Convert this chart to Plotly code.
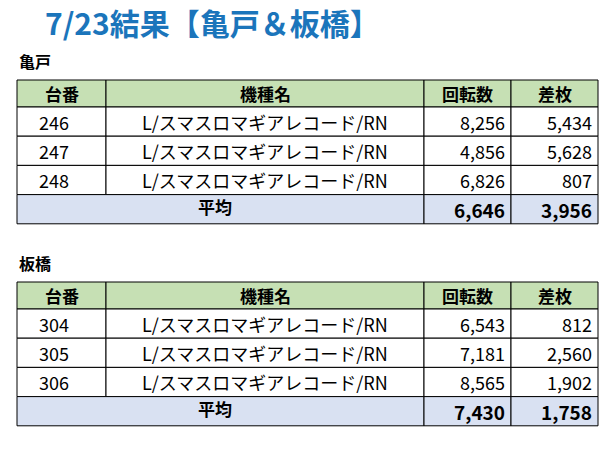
import plotly.graph_objects as go

title = "7/23結果【亀戸＆板橋】"
headers = ["台番", "機種名", "回転数", "差枚"]
machine = "L/スマスロマギアレコード/RN"
stores = ["亀戸", "板橋"]
units = [[246, 247, 248], [304, 305, 306]]
spins = [[8256, 4856, 6826], [6543, 7181, 8565]]
diffs = [[5434, 5628, 807], [812, 2560, 1902]]
avg_spins = [6646, 7430]
avg_diffs = [3956, 1758]

cols = [17, 106, 424, 511, 598]
tops = [80, 282]
hh, rh = 27, 29.2
FONT = "Noto Sans CJK JP"
fig = go.Figure()
shapes, ann = [], []

def text(x, y, s, anchor="center", size=18, bold=False, color="#000"):
    ann.append(dict(x=x, y=y, text=f"<b>{s}</b>" if bold else s, showarrow=False,
                    xanchor=anchor, yanchor="middle", font=dict(family=FONT, size=size, color=color)))

def rect(x0, y0, x1, y1, fill):
    shapes.append(dict(type="rect", x0=x0, y0=y0, x1=x1, y1=y1, fillcolor=fill,
                       line=dict(color="#000", width=1)))

text(43, 22, title, "left", 30, True, "#1b75bb")
for t, top in enumerate(tops):
    text(17, top - 19, stores[t], "left", 16, True)
    for c in range(4):
        rect(cols[c], top, cols[c + 1], top + hh, "#c6e0b4")
        text((cols[c] + cols[c + 1]) / 2, top + hh / 2, headers[c], bold=True, size=17)
    for r in range(3):
        y0 = top + hh + r * rh
        for c in range(4):
            rect(cols[c], y0, cols[c + 1], y0 + rh, "#ffffff")
        ym = y0 + rh / 2
        text((cols[0] + cols[1]) / 2 - 8, ym, str(units[t][r]))
        text((cols[1] + cols[2]) / 2, ym, machine)
        text(cols[3] - 4, ym, f"{spins[t][r]:,}", "right")
        text(cols[4] - 4, ym, f"{diffs[t][r]:,}", "right")
    y0 = top + hh + 3 * rh
    rect(cols[0], y0, cols[2], y0 + rh, "#d9e1f2")
    rect(cols[2], y0, cols[3], y0 + rh, "#d9e1f2")
    rect(cols[3], y0, cols[4], y0 + rh, "#d9e1f2")
    ym = y0 + rh / 2
    text((cols[1] + cols[2]) / 2 - 50, ym - 3, "平均", bold=True, size=17)
    text(cols[3] - 4, ym, f"{avg_spins[t]:,}", "right", 19, True)
    text(cols[4] - 4, ym, f"{avg_diffs[t]:,}", "right", 19, True)

fig.update_layout(width=616, height=455, margin=dict(l=0, r=0, t=0, b=0),
                  plot_bgcolor="white", paper_bgcolor="white", shapes=shapes, annotations=ann,
                  xaxis=dict(range=[8, 624], visible=False, fixedrange=True),
                  yaxis=dict(range=[463, 8], visible=False, fixedrange=True), showlegend=False)
fig.write_html("out.html")
